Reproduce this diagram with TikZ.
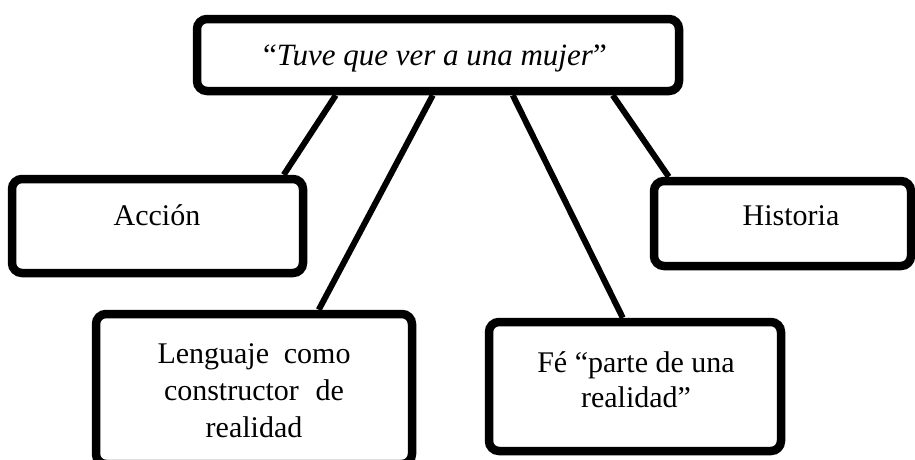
\documentclass[tikz,border=0pt]{standalone}
\usepackage{fontspec}
\setmainfont{Liberation Serif}
\begin{document}
\begin{tikzpicture}[x=1pt,y=-1pt,
  box/.style={draw, line width=8.5pt, rounded corners=10pt, fill=white, inner sep=0pt},
  link/.style={line width=6pt},
  txt/.style={font=\fontsize{30}{37}\selectfont, inner sep=0pt}]
\useasboundingbox (0,0) rectangle (915,459);
\clip (0,0) rectangle (915,459);
% boxes
\node[box, minimum width=482pt, minimum height=72pt] (top) at (438,55) {};
\node[box, minimum width=291pt, minimum height=94pt] (acc) at (157.5,226) {};
\node[box, minimum width=257pt, minimum height=85pt] (hist) at (782.5,223.5) {};
\node[box, minimum width=316pt, minimum height=150pt] (leng) at (254,389) {};
\node[box, minimum width=292pt, minimum height=129pt] (fe) at (635,386.5) {};
% connectors
\draw[link] ([xshift=143pt]top.south west) -- ([xshift=276pt]acc.north west);
\draw[link] ([xshift=240pt]top.south west) -- ([xshift=227pt]leng.north west);
\draw[link] ([xshift=320pt]top.south west) -- ([xshift=138pt]fe.north west);
\draw[link] ([xshift=420pt]top.south west) -- ([xshift=19pt]hist.north west);
% texts
\node[txt, anchor=base, font=\fontsize{31}{37}\selectfont] (ttop) at (435,65) {“\textit{Tuve que ver a una mujer}”};
\node[txt, anchor=base] (tacc) at (157,225) {Acción};
\node[txt, anchor=base] (thist) at (791,225) {Historia};
\node[txt, anchor=base, align=center] (tleng) at (254,437)
  {\makebox[193pt][s]{Lenguaje\hfill como}\\\makebox[180pt][s]{constructor\hfill de}\\realidad};
\node[txt, anchor=base, align=center, font=\fontsize{30}{35}\selectfont] (tfe) at (636,407) {Fé “parte de una\\realidad”};
\end{tikzpicture}
\end{document}
